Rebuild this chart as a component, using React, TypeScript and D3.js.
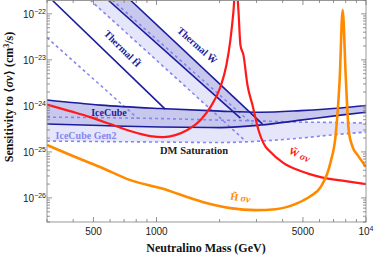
import * as d3 from 'd3';

const W = 374;
const H = 260;
const plot = { left: 47, right: 366, top: 0, bottom: 222 };

// neutralino mass (GeV) and sensitivity <sigma v> (cm^3/s)
const bandMass = [300, 540, 1040, 2020, 3140, 4870, 7570, 10000];
const iceTop = [1.34e-24, 1.04e-24, 8.75e-25, 7.7e-25, 7.3e-25, 7.9e-25, 8.98e-25, 1.02e-24];
const iceBottom = [4.03e-25, 3.74e-25, 3.47e-25, 3.38e-25, 3.83e-25, 4.9e-25, 6.3e-25, 7.3e-25];
const gen2Top = [5.7e-25, 5.55e-25, 5.3e-25, 4.9e-25, 4.69e-25, 4.45e-25, 4.35e-25, 4.24e-25];
const gen2Bottom = [1.72e-25, 1.68e-25, 1.64e-25, 1.6e-25, 1.72e-25, 2.0e-25, 2.44e-25, 2.7e-25];

const thermalHMass = [317, 1100];
const thermalHIce = [2e-22, 8.5e-25];
const thermalHGen2Mass = [300, 809];
const thermalHGen2 = [3.05e-23, 5.44e-25];

const thermalWUpperMass = [749, 3205];
const thermalWUpper = [2e-22, 4.03e-25];
const thermalWLowerMass = [587, 2515];
const thermalWLower = [2e-22, 5.44e-25];
const gen2WUpperMass = [614, 2871];
const gen2WUpper = [2e-22, 4.03e-25];
const gen2WLowerMass = [482, 2628];
const gen2WLower = [2e-22, 1.81e-25];

const winoMass = [300, 386, 482, 601, 749, 933, 1077, 1229, 1403, 1619, 1808, 2018, 2156, 2252, 2328, 2394, 2460, 2515, 2600, 2717, 2871, 3067, 3313, 3423, 4041, 4869, 6072, 8000, 10000];
const winoSv = [1.07e-24, 7.7e-25, 5.7e-25, 4.03e-25, 2.84e-25, 2.21e-25, 2.1e-25, 2.32e-25, 2.99e-25, 4.9e-25, 9.4e-25, 2.57e-24, 7.73e-24, 2.7e-23, 1.1e-22, 5.4e-22, 1.21e-22, 2.1e-23, 1.27e-23, 2.84e-24, 1.04e-24, 2.99e-25, 1.3e-25, 1.1e-25, 5.7e-26, 3.84e-26, 2.84e-26, 2.32e-26, 2.0e-26];

const higgsinoMass = [300, 432, 538, 749, 1042, 1673, 2252, 2966, 3699, 4713, 5438, 6072, 6778, 7164, 7485, 7738, 7998, 8266, 8636, 9125, 10000];
const higgsinoSv = [1.41e-25, 7.0e-26, 4.7e-26, 2.44e-26, 1.64e-26, 8.1e-27, 6.0e-27, 5.44e-27, 5.7e-27, 7.7e-27, 1.1e-26, 1.72e-26, 6.0e-26, 2.32e-25, 3.65e-24, 1.21e-22, 4.69e-24, 2.99e-25, 1.27e-25, 8.5e-26, 4.7e-26];

const xMajor = [500, 1000, 5000, 10000];
const xMinor = [300, 400, 600, 700, 800, 900, 2000, 3000, 4000, 6000, 7000, 8000, 9000];
const yExponents = [-22, -23, -24, -25, -26];

const darkBlue = '#1c1c9c';
const lightBlue = '#8585f0';
const midFill = '#c8c8ee';
const lightFill = '#e6e6fb';

const x = d3.scaleLog().domain([300, 10000]).range([plot.left, plot.right]);
const y = d3.scaleLog().domain([3e-27, 2e-22]).range([plot.bottom, plot.top]);

type P = [number, number];
const pts = (ms: number[], vs: number[]): P[] => ms.map((m, i) => [m, vs[i]]);
const line = d3.line<P>().x(d => x(d[0])).y(d => y(d[1]));
const smooth = d3.line<P>().x(d => x(d[0])).y(d => y(d[1])).curve(d3.curveMonotoneX);

function polygon(a: P[], b: P[]) {
  return line([...a, ...b.slice().reverse()]) + 'Z';
}

function bandArea(top: number[], bottom: number[]) {
  return d3
    .area<number>()
    .x(m => x(m))
    .y0((_, i) => y(bottom[i]))
    .y1((_, i) => y(top[i]))
    .curve(d3.curveMonotoneX)(bandMass) as string;
}

const serif = '"Liberation Serif", "DejaVu Serif", serif';
const sans = '"Liberation Sans", Arial, sans-serif';

export default function App() {
  const wUp = pts(thermalWUpperMass, thermalWUpper);
  const wLo = pts(thermalWLowerMass, thermalWLower);
  const gUp = pts(gen2WUpperMass, gen2WUpper);
  const gLo = pts(gen2WLowerMass, gen2WLower);

  const minorY: number[] = [];
  for (let e = -27; e <= -22; e++) {
    for (let k = 2; k <= 9; k++) {
      const v = k * Math.pow(10, e);
      if (v >= 3e-27 && v <= 2e-22) minorY.push(v);
    }
  }

  return (
    <svg width={W} height={H} style={{ position: 'absolute', left: 0, top: 0, background: '#fff' }}>
      <defs>
        <clipPath id="plotclip">
          <rect x={plot.left} y={plot.top} width={plot.right - plot.left} height={plot.bottom - plot.top} />
        </clipPath>
      </defs>
      <g clipPath="url(#plotclip)">
        {/* Gen2 fills */}
        <path d={bandArea(gen2Top, gen2Bottom)} fill={lightFill} />
        <path d={polygon(gUp, gLo)} fill={lightFill} />
        {/* IceCube fills */}
        <path d={bandArea(iceTop, iceBottom)} fill={midFill} />
        <path d={polygon(wUp, wLo)} fill={midFill} />

        {/* Gen2 dashed borders */}
        <g fill="none" stroke={lightBlue} strokeWidth={1.6} strokeDasharray="3,3">
          <path d={smooth(pts(bandMass, gen2Top)) as string} />
          <path d={smooth(pts(bandMass, gen2Bottom)) as string} />
          <path d={line(gUp) as string} />
          <path d={line(gLo) as string} />
          <path d={line(pts(thermalHGen2Mass, thermalHGen2)) as string} />
        </g>

        {/* IceCube solid borders */}
        <g fill="none" stroke={darkBlue} strokeWidth={1.6}>
          <path d={smooth(pts(bandMass, iceTop)) as string} />
          <path d={smooth(pts(bandMass, iceBottom)) as string} />
          <path d={line(wUp) as string} />
          <path d={line(wLo) as string} />
          <path d={line(pts(thermalHMass, thermalHIce)) as string} />
        </g>

        <path d={smooth(pts(winoMass, winoSv)) as string} fill="none" stroke="#ff1a1a" strokeWidth={2.2} />
        <path d={smooth(pts(higgsinoMass, higgsinoSv)) as string} fill="none" stroke="#ff8a00" strokeWidth={2.6} />
      </g>

      {/* labels */}
      <g fontFamily={serif} fontWeight="bold" fontSize={10}>
        <text x={120} y={51} fill={darkBlue} textAnchor="middle" transform="rotate(45 120 51)">
          Thermal H̃
        </text>
        <text x={195} y={48} fill={darkBlue} textAnchor="middle" transform="rotate(42 195 48)">
          Thermal W̃
        </text>
        <text x={109} y={116} fill={darkBlue} textAnchor="middle">IceCube</text>
        <text x={86} y={139} fill={lightBlue} textAnchor="middle">IceCube Gen2</text>
        <text x={194} y={154} fill="#222" textAnchor="middle" fontSize={10.5}>DM Saturation</text>
        <text x={298} y={158} fill="#ff1a1a" textAnchor="middle" transform="rotate(25 298 158)">
          W̃ <tspan fontStyle="italic">σv</tspan>
        </text>
        <text x={240} y={201} fill="#ff8a00" textAnchor="middle" transform="rotate(9 240 201)">
          H̃ <tspan fontStyle="italic">σv</tspan>
        </text>
      </g>

      {/* frame */}
      <rect x={plot.left} y={plot.top + 0.5} width={plot.right - plot.left} height={plot.bottom - plot.top - 0.5} fill="none" stroke="#999" strokeWidth={1} />

      {/* ticks */}
      <g stroke="#777" strokeWidth={0.8}>
        {xMajor.map(m => (
          <g key={m}>
            <line x1={x(m)} x2={x(m)} y1={plot.bottom} y2={plot.bottom - 5} />
            <line x1={x(m)} x2={x(m)} y1={plot.top} y2={plot.top + 5} />
          </g>
        ))}
        {xMinor.map(m => (
          <g key={m}>
            <line x1={x(m)} x2={x(m)} y1={plot.bottom} y2={plot.bottom - 3} />
            <line x1={x(m)} x2={x(m)} y1={plot.top} y2={plot.top + 3} />
          </g>
        ))}
        {yExponents.map(e => (
          <g key={e}>
            <line x1={plot.left} x2={plot.left + 5} y1={y(Math.pow(10, e))} y2={y(Math.pow(10, e))} />
            <line x1={plot.right} x2={plot.right - 5} y1={y(Math.pow(10, e))} y2={y(Math.pow(10, e))} />
          </g>
        ))}
        {minorY.map((v, i) => (
          <g key={i}>
            <line x1={plot.left} x2={plot.left + 3} y1={y(v)} y2={y(v)} />
            <line x1={plot.right} x2={plot.right - 3} y1={y(v)} y2={y(v)} />
          </g>
        ))}
      </g>

      <g fontFamily={sans} fontSize={10} fill="#222">
        {xMajor.map(m => (
          <text key={m} x={x(m)} y={235} textAnchor="middle">
            {m === 10000 ? (
              <>
                10<tspan fontSize={7} dy={-4}>4</tspan>
              </>
            ) : (
              m
            )}
          </text>
        ))}
        {yExponents.map(e => (
          <text key={e} x={46} y={y(Math.pow(10, e)) + 4} textAnchor="end">
            10<tspan fontSize={7} dy={-4}>{'\u2212' + Math.abs(e)}</tspan>
          </text>
        ))}
      </g>

      <g fontFamily={serif} fontWeight="bold" fontSize={12} fill="#111">
        <text x={206} y={252} textAnchor="middle">Neutralino Mass (GeV)</text>
        <text x={13} y={97} textAnchor="middle" transform="rotate(-90 13 97)">
          Sensitivity to ⟨<tspan fontStyle="italic">σv</tspan>⟩ (cm<tspan fontSize={8} dy={-4}>3</tspan>
          <tspan dy={4}>/s)</tspan>
        </text>
      </g>
    </svg>
  );
}
